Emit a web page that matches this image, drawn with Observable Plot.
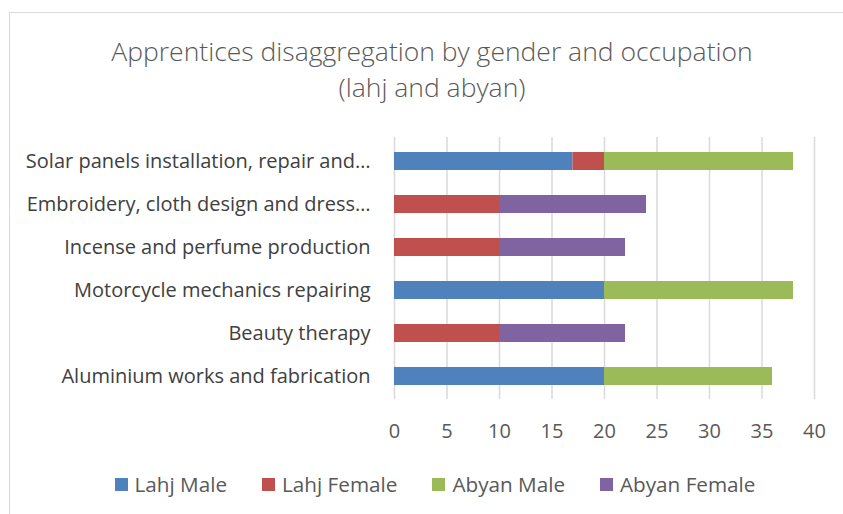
<!DOCTYPE html>
<html>
<head>
<meta charset="utf-8">
<script src="https://cdn.jsdelivr.net/npm/d3@7"></script>
<script src="https://cdn.jsdelivr.net/npm/@observablehq/plot@0.6"></script>
<style>
  body { margin: 0; background: #fff; font-family: "Open Sans", sans-serif; }
  #wrap { position: relative; width: 843px; height: 514px; overflow: hidden; }
  #border { position: absolute; left: 9px; top: 12px; width: 900px; height: 600px; border: 1px solid #d9d9d9; box-sizing: border-box; }
  #title { position: absolute; left: 0; top: 33px; width: 864px; text-align: center; font-size: 26.5px; line-height: 36px; color: #595959; font-weight: 300; }
  #chart { position: absolute; left: 0; top: 120px; }
  #legend { position: absolute; left: 0; top: 470px; width: 870px; display: flex; justify-content: center; gap: 35px; font-size: 20.7px; line-height: 28px; color: #595959; }
  .item { display: flex; align-items: center; gap: 7px; }
  .sw { width: 13px; height: 13px; display: inline-block; }
</style>
</head>
<body>
<div id="wrap">
  <div id="border"></div>
  <div id="title">Apprentices disaggregation by gender and occupation<br>(lahj and abyan)</div>
  <div id="chart"></div>
  <div id="legend"></div>
</div>
<script>
const categories = [
  "Solar panels installation, repair and…",
  "Embroidery, cloth design and dress…",
  "Incense and perfume production",
  "Motorcycle mechanics repairing",
  "Beauty therapy",
  "Aluminium works and fabrication"
];
const seriesNames = ["Lahj Male", "Lahj Female", "Abyan Male", "Abyan Female"];
const seriesColors = ["#4f81bd", "#c0504d", "#9bbb59", "#8064a2"];
const lahjMale    = [17, 0, 0, 20, 0, 20];
const lahjFemale  = [3, 10, 10, 0, 10, 0];
const abyanMale   = [18, 0, 0, 18, 0, 16];
const abyanFemale = [0, 14, 12, 0, 12, 0];
const xTicks = [0, 5, 10, 15, 20, 25, 30, 35, 40];

const seriesValues = [lahjMale, lahjFemale, abyanMale, abyanFemale];
const rows = [];
seriesNames.forEach((s, si) => {
  categories.forEach((c, ci) => {
    rows.push({category: c, series: s, value: seriesValues[si][ci]});
  });
});

const chart = Plot.plot({
  width: 843,
  height: 330,
  marginLeft: 394,
  marginRight: 29,
  marginTop: 17,
  marginBottom: 51,
  style: {fontFamily: "'Open Sans', sans-serif", fontSize: "20px", color: "#595959", background: "transparent"},
  x: {domain: [0, 40], ticks: xTicks, label: null},
  y: {domain: categories, label: null, paddingInner: 0.59, paddingOuter: 0.295},
  color: {domain: seriesNames, range: seriesColors},
  marks: [
    Plot.gridX(xTicks, {stroke: "#d9d9d9", strokeOpacity: 1, strokeWidth: 1.5}),
    Plot.barX(rows, Plot.stackX({x: "value", y: "category", fill: "series", order: seriesNames})),
    Plot.axisX({ticks: xTicks, tickSize: 0, tickPadding: 24, label: null, fill: "#595959"}),
    Plot.axisY({tickSize: 0, tickPadding: 24, label: null, fill: "#404040"})
  ]
});
document.getElementById("chart").appendChild(chart);

const legend = document.getElementById("legend");
seriesNames.forEach((s, i) => {
  const it = document.createElement("div");
  it.className = "item";
  const sw = document.createElement("span");
  sw.className = "sw";
  sw.style.background = seriesColors[i];
  const t = document.createElement("span");
  t.textContent = s;
  it.appendChild(sw); it.appendChild(t);
  legend.appendChild(it);
});
</script>
</body>
</html>
